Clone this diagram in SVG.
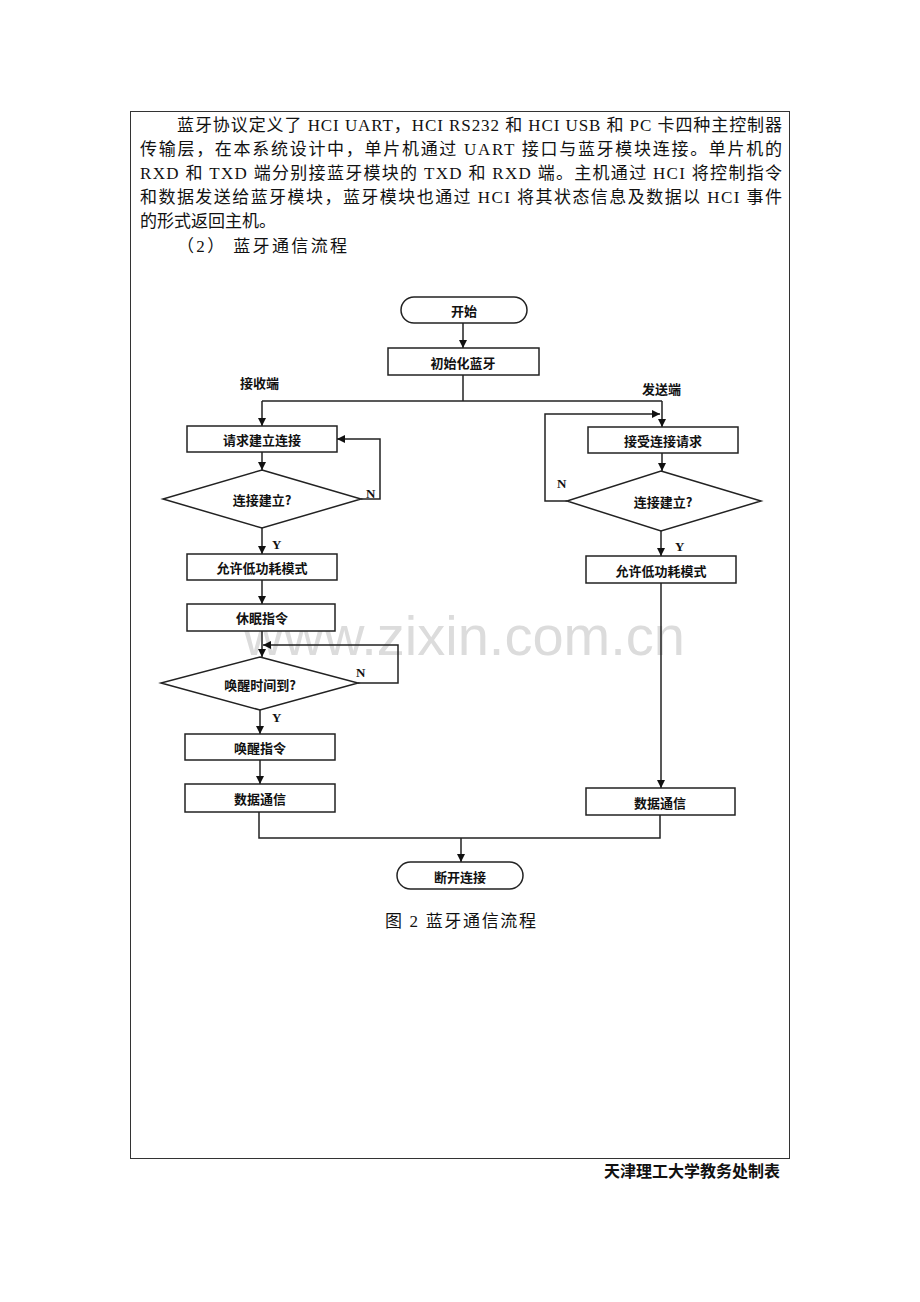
<svg xmlns="http://www.w3.org/2000/svg" width="920" height="1302" viewBox="0 0 920 1302">
<defs>
<marker id="ah" viewBox="0 0 10 10" refX="10" refY="5" markerWidth="8" markerHeight="8" markerUnits="userSpaceOnUse" orient="auto"><path d="M0,0 L10,5 L0,10 z" fill="#111"/></marker>
<style>
.body{font-family:"Liberation Serif","Noto Sans CJK SC",serif;font-size:17px;fill:#111}
.nt{font-family:"Noto Sans CJK SC",sans-serif;font-size:13px;font-weight:bold;fill:#111;text-anchor:middle;dominant-baseline:central}
.lb{font-family:"Liberation Serif","Noto Sans CJK SC",serif;font-size:13px;font-weight:bold;fill:#111}
.box{fill:#fff;stroke:#222;stroke-width:1.5}
.ln{fill:none;stroke:#222;stroke-width:1.5}
.wm{font-family:"Liberation Sans",sans-serif;font-size:56px;fill:#dcdcdc}
</style>
</defs>
<rect width="920" height="1302" fill="#fff"/>
<rect x="130.5" y="111.5" width="659" height="1047" fill="none" stroke="#333" stroke-width="1"/>
<g id="text">
<text class="body" x="177" y="131" textLength="605" lengthAdjust="spacing">蓝牙协议定义了 HCI UART，HCI RS232 和 HCI USB 和 PC 卡四种主控制器</text>
<text class="body" x="140" y="155" textLength="642" lengthAdjust="spacing">传输层，在本系统设计中，单片机通过 UART 接口与蓝牙模块连接。单片机的</text>
<text class="body" x="140" y="179" textLength="642" lengthAdjust="spacing">RXD 和 TXD 端分别接蓝牙模块的 TXD 和 RXD 端。主机通过 HCI 将控制指令</text>
<text class="body" x="140" y="203" textLength="642" lengthAdjust="spacing">和数据发送给蓝牙模块，蓝牙模块也通过 HCI 将其状态信息及数据以 HCI 事件</text>
<text class="body" x="140" y="227">的形式返回主机。</text>
<text class="body" x="177" y="252" textLength="170" lengthAdjust="spacing">（2） 蓝牙通信流程</text>
</g>
<text class="wm" x="243" y="655">www.zixin.com.cn</text>
<g id="connectors">
<line class="ln" x1="463" y1="323" x2="463" y2="348" marker-end="url(#ah)"/>
<polyline class="ln" points="463,375 463,401"/>
<polyline class="ln" points="262,401 662,401"/>
<polyline class="ln" points="262,401 262,426" marker-end="url(#ah)"/>
<polyline class="ln" points="662,401 662,427" marker-end="url(#ah)"/>
<line class="ln" x1="262" y1="452" x2="262" y2="470" marker-end="url(#ah)"/>
<polyline class="ln" points="361,499 380,499 380,439 337,439" marker-end="url(#ah)"/>
<line class="ln" x1="262" y1="528" x2="262" y2="554" marker-end="url(#ah)"/>
<line class="ln" x1="262" y1="580" x2="262" y2="604" marker-end="url(#ah)"/>
<line class="ln" x1="262" y1="631" x2="262" y2="657" marker-end="url(#ah)"/>
<polyline class="ln" points="358,683 398,683 398,645 263,645" marker-end="url(#ah)"/>
<line class="ln" x1="260" y1="710" x2="260" y2="734" marker-end="url(#ah)"/>
<line class="ln" x1="260" y1="760" x2="260" y2="784" marker-end="url(#ah)"/>
<polyline class="ln" points="259,812 259,838 660,838 660,815"/>
<line class="ln" x1="461" y1="838" x2="461" y2="862" marker-end="url(#ah)"/>
<line class="ln" x1="662" y1="453" x2="662" y2="471" marker-end="url(#ah)"/>
<polyline class="ln" points="567,501 545,501 545,414 660,414" marker-end="url(#ah)"/>
<line class="ln" x1="661" y1="531" x2="661" y2="556" marker-end="url(#ah)"/>
<line class="ln" x1="661" y1="583" x2="661" y2="788" marker-end="url(#ah)"/>
</g>
<g id="labels">
<text class="lb" x="240" y="388" font-family="Noto Sans CJK SC">接收端</text>
<text class="lb" x="642" y="394" font-family="Noto Sans CJK SC">发送端</text>
<text class="lb" x="366" y="498">N</text>
<text class="lb" x="272" y="549">Y</text>
<text class="lb" x="356" y="677">N</text>
<text class="lb" x="272" y="722">Y</text>
<text class="lb" x="557" y="488">N</text>
<text class="lb" x="675" y="551">Y</text>
</g>
<g id="start"><rect class="box" x="401" y="297" width="126" height="26" rx="13"/><text class="nt" x="464" y="310">开始</text></g>
<g id="init"><rect class="box" x="388" y="348" width="151" height="27"/><text class="nt" x="463" y="362">初始化蓝牙</text></g>
<g id="req"><rect class="box" x="187" y="426" width="150" height="26"/><text class="nt" x="262" y="439">请求建立连接</text></g>
<g id="dec1"><polygon class="box" points="262,470 361,499 262,528 163,499"/><text class="nt" x="262" y="499">连接建立?</text></g>
<g id="lp1"><rect class="box" x="187" y="554" width="150" height="26"/><text class="nt" x="262" y="567">允许低功耗模式</text></g>
<g id="sleep"><rect class="box" x="187" y="604" width="148" height="27"/><text class="nt" x="262" y="617">休眠指令</text></g>
<g id="dec2"><polygon class="box" points="260,657 358,683 260,710 161,683"/><text class="nt" x="260" y="684">唤醒时间到?</text></g>
<g id="wake"><rect class="box" x="185" y="734" width="150" height="26"/><text class="nt" x="260" y="747">唤醒指令</text></g>
<g id="data1"><rect class="box" x="185" y="784" width="150" height="28"/><text class="nt" x="260" y="798">数据通信</text></g>
<g id="acc"><rect class="box" x="588" y="427" width="150" height="26"/><text class="nt" x="663" y="440">接受连接请求</text></g>
<g id="dec3"><polygon class="box" points="661,471 761,501 661,531 567,501"/><text class="nt" x="663" y="501">连接建立?</text></g>
<g id="lp2"><rect class="box" x="586" y="556" width="150" height="27"/><text class="nt" x="661" y="570">允许低功耗模式</text></g>
<g id="data2"><rect class="box" x="586" y="788" width="149" height="27"/><text class="nt" x="660" y="802">数据通信</text></g>
<g id="end"><rect class="box" x="397" y="862" width="126" height="27" rx="13.5"/><text class="nt" x="460" y="876">断开连接</text></g>
<text class="body" x="385" y="927" textLength="151" lengthAdjust="spacing">图 2 蓝牙通信流程</text>
<text x="780" y="1177" text-anchor="end" style="font-family:'Noto Sans CJK SC',sans-serif;font-size:16px;font-weight:bold;fill:#111">天津理工大学教务处制表</text>
</svg>
